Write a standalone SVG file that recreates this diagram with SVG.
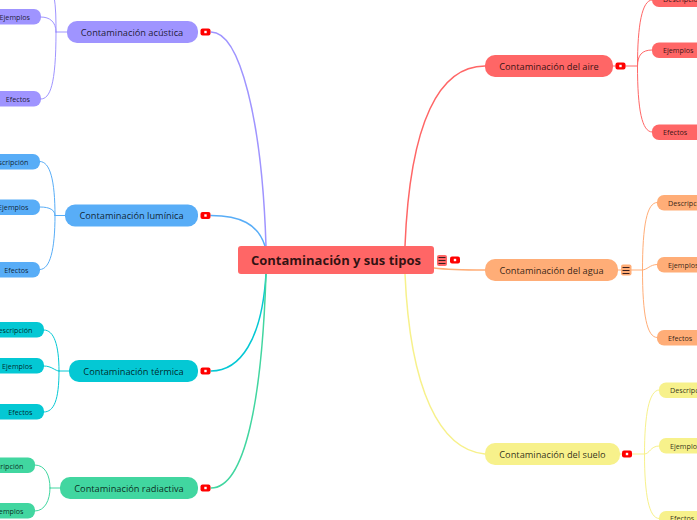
<svg xmlns="http://www.w3.org/2000/svg" width="697" height="520" viewBox="0 0 697 520">
<style>
text{font-family:"Open Sans","Noto Sans",sans-serif;fill:#000;fill-opacity:.82}
.m{font-size:9.25px;text-anchor:middle}
.s{font-size:7.2px}
.c{fill:none;stroke-linecap:round}
.t{stroke-width:1.5}
.b{stroke-width:1}
.yb{fill:#f00}
.yd{fill:#fff}
.l{stroke:#3a2020;stroke-width:1;fill:none}
.pu{fill:#9f94ff}.bl{fill:#58adf7}.te{fill:#04c8d4}.gr{fill:#41d6a0}.re{fill:#ff6666}.or{fill:#ffad77}.ye{fill:#f7f18b}
.spu{stroke:#9f94ff}.sbl{stroke:#58adf7}.ste{stroke:#04c8d4}.sgr{stroke:#41d6a0}.sre{stroke:#ff6666}.sor{stroke:#ffad77}.sye{stroke:#f7f18b}
</style>
<defs>
<g id="yt"><rect class="yb" x="-5" y="-3.5" width="10" height="7" rx="2"/><rect class="yd" x="-1.2" y="-1.2" width="2.4" height="2.4"/></g>
<g id="mn"><path class="l" d="M-3.5,-3H3.5M-3.5,0H3.5M-3.5,3H3.5"/></g>
</defs>
<g id="connectors">
<path class="c t spu" d="M211,32C240,32 262,120 266,246"/>
<path class="c t sbl" d="M211,215.500C240,215.500 258,224 265,246"/>
<path class="c t ste" d="M211,371C240,371 262,340 266,274"/>
<path class="c t sgr" d="M211,488C245,488 262,400 266,274"/>
<path class="c t sre" d="M485,66C440,66 410,120 405,246"/>
<path class="c t sor" d="M434,268C450,270 470,270 485,270"/>
<path class="c t sye" d="M485,454C440,450 410,390 405,274"/>
<path class="c b spu" d="M67,32H56M41,17C50,17 56,22 56,32M41,99C50,99 56,85 56,32M56,32C56,20 56,8 54,-4"/>
<path class="c b sbl" d="M65,215.500H55M40,161.500C50,161.500 55,180 55,215.500M40,207C50,207 55,210 55,215.500M40,269.500C50,269.500 55,250 55,215.500"/>
<path class="c b ste" d="M69,371H59M44,330C54,330 59,345 59,371M44,366C52,366 55,371 59,371M44,412C54,412 59,400 59,371"/>
<path class="c b sgr" d="M60,488H50M35,465C45,465 50,475 50,488M35,511C45,511 50,500 50,488"/>
<path class="c b sre" d="M613,66H637.500M652,0C642,0 637.500,25 637.500,66M652,50C642,50 637.500,55 637.500,66M652,132C642,132 637.500,110 637.500,66"/>
<path class="c b sor" d="M618,270H642.500M657,202.500C647,202.500 642.500,225 642.500,270M657,264.500C650,264.500 647,270 642.500,270M657,337.500C647,337.500 642.500,315 642.500,270"/>
<path class="c b sye" d="M620,454H644.500M659,390C649,390 644.500,415 644.500,454M659,446C650,446 650,454 644.500,454M659,518.500C649,518.500 644.500,495 644.500,454"/>
</g>
<g id="root"><rect class="re" x="238" y="246" width="196" height="28" rx="3"/><text x="336" y="265" text-anchor="middle" font-size="13" font-weight="700">Contaminación y sus tipos</text>
<rect class="re" x="437" y="255" width="10" height="11" rx="2"/><use href="#mn" x="442" y="260.500"/><use href="#yt" x="455" y="260"/></g>
<g id="n-acustica"><rect class="pu" x="67" y="21" width="131" height="22" rx="10"/><text class="m" x="132" y="36">Contaminación acústica</text><use href="#yt" x="205.500" y="32"/></g>
<g id="n-acustica-ej"><rect class="pu" x="-20" y="9" width="61" height="15.500" rx="7"/><text class="s" x="30" y="20" text-anchor="end">Ejemplos</text></g>
<g id="n-acustica-ef"><rect class="pu" x="-20" y="91" width="61" height="15.500" rx="7"/><text class="s" x="30" y="102" text-anchor="end">Efectos</text></g>
<g id="n-luminica"><rect class="bl" x="65" y="204.500" width="133" height="22" rx="10"/><text class="m" x="131.500" y="219">Contaminación lumínica</text><use href="#yt" x="205.500" y="215.500"/></g>
<g id="n-luminica-de"><rect class="bl" x="-20" y="154" width="60" height="15.500" rx="7"/><text class="s" x="28.500" y="165" text-anchor="end">Descripción</text></g>
<g id="n-luminica-ej"><rect class="bl" x="-20" y="199.500" width="60" height="15.500" rx="7"/><text class="s" x="28.500" y="210" text-anchor="end">Ejemplos</text></g>
<g id="n-luminica-ef"><rect class="bl" x="-20" y="262" width="60" height="15.500" rx="7"/><text class="s" x="28.500" y="273" text-anchor="end">Efectos</text></g>
<g id="n-termica"><rect class="te" x="69" y="360" width="129" height="22" rx="10"/><text class="m" x="133.500" y="375">Contaminación térmica</text><use href="#yt" x="205.500" y="371"/></g>
<g id="n-termica-de"><rect class="te" x="-20" y="322" width="64" height="15.500" rx="7"/><text class="s" x="32.500" y="333" text-anchor="end">Descripción</text></g>
<g id="n-termica-ej"><rect class="te" x="-20" y="358" width="64" height="15.500" rx="7"/><text class="s" x="32.500" y="369" text-anchor="end">Ejemplos</text></g>
<g id="n-termica-ef"><rect class="te" x="-20" y="404" width="64" height="15.500" rx="7"/><text class="s" x="32.500" y="415" text-anchor="end">Efectos</text></g>
<g id="n-radiactiva"><rect class="gr" x="60" y="477" width="138" height="22" rx="10"/><text class="m" x="129" y="492">Contaminación radiactiva</text><use href="#yt" x="205.500" y="488"/></g>
<g id="n-radiactiva-de"><rect class="gr" x="-20" y="457.500" width="55" height="15.500" rx="7"/><text class="s" x="23.500" y="468.500" text-anchor="end">Descripción</text></g>
<g id="n-radiactiva-ej"><rect class="gr" x="-20" y="503" width="55" height="15.500" rx="7"/><text class="s" x="23.500" y="514" text-anchor="end">Ejemplos</text></g>
<g id="n-aire"><rect class="re" x="485" y="55" width="128" height="22" rx="10"/><text class="m" x="549" y="70">Contaminación del aire</text><use href="#yt" x="620.500" y="66"/></g>
<g id="n-aire-de"><rect class="re" x="652" y="-8.500" width="65" height="15.500" rx="7"/><text class="s" x="663" y="2">Descripción</text></g>
<g id="n-aire-ej"><rect class="re" x="652" y="42.500" width="65" height="15.500" rx="7"/><text class="s" x="663" y="53">Ejemplos</text></g>
<g id="n-aire-ef"><rect class="re" x="652" y="124.500" width="65" height="15.500" rx="7"/><text class="s" x="663" y="135">Efectos</text></g>
<g id="n-agua"><rect class="or" x="485" y="259" width="133" height="22" rx="10"/><text class="m" x="551.500" y="274">Contaminación del agua</text><rect class="or" x="621" y="264.500" width="10.500" height="11" rx="2"/><use href="#mn" x="626" y="270.500"/></g>
<g id="n-agua-de"><rect class="or" x="657" y="195" width="65" height="15.500" rx="7"/><text class="s" x="668" y="205.500">Descripción</text></g>
<g id="n-agua-ej"><rect class="or" x="657" y="257" width="65" height="15.500" rx="7"/><text class="s" x="668" y="267.500">Ejemplos</text></g>
<g id="n-agua-ef"><rect class="or" x="657" y="330" width="65" height="15.500" rx="7"/><text class="s" x="668" y="340.500">Efectos</text></g>
<g id="n-suelo"><rect class="ye" x="485" y="443" width="135" height="22" rx="10"/><text class="m" x="552.500" y="458">Contaminación del suelo</text><use href="#yt" x="627" y="454"/></g>
<g id="n-suelo-de"><rect class="ye" x="659" y="382.500" width="65" height="15.500" rx="7"/><text class="s" x="670" y="393">Descripción</text></g>
<g id="n-suelo-ej"><rect class="ye" x="659" y="438" width="65" height="15.500" rx="7"/><text class="s" x="670" y="449">Ejemplos</text></g>
<g id="n-suelo-ef"><rect class="ye" x="659" y="511" width="65" height="15.500" rx="7"/><text class="s" x="670" y="521">Efectos</text></g>
</svg>
